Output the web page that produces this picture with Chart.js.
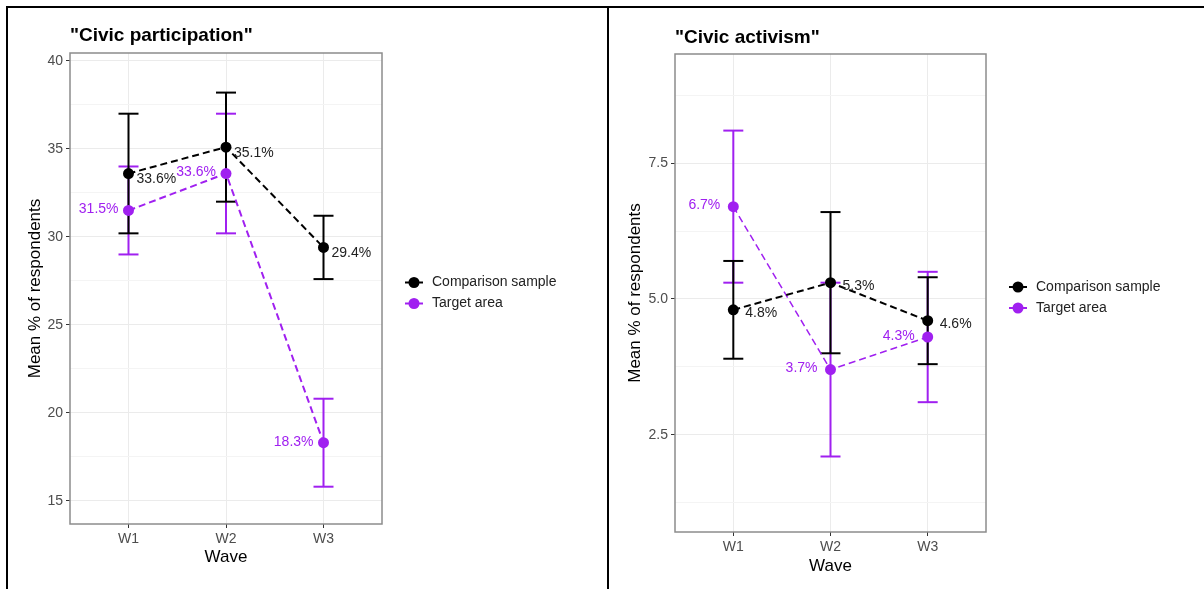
<!DOCTYPE html>
<html>
<head>
<meta charset="utf-8">
<title>Civic participation and civic activism by wave</title>
<script src="https://cdn.jsdelivr.net/npm/chart.js@4.4.1/dist/chart.umd.min.js"></script>
<style>
  html, body { margin: 0; padding: 0; background: #fff; }
  #page { position: relative; width: 1204px; height: 589px; overflow: hidden; }
  .rule { position: absolute; background: #000; }
  canvas { position: absolute; }
</style>
</head>
<body>
<div id="page">
  <div class="rule" style="left:6px;top:6px;width:1198px;height:2px"></div>
  <div class="rule" style="left:6px;top:6px;width:2px;height:583px"></div>
  <div class="rule" style="left:607px;top:6px;width:2px;height:583px"></div>
  <canvas id="participation" width="599" height="581" style="left:8px;top:8px"></canvas>
  <canvas id="activism" width="595" height="581" style="left:609px;top:8px"></canvas>
</div>
<script>
// ------------------------
// Data
// ------------------------

const waves = ['W1', 'W2', 'W3'];
const groups = ['Comparison sample', 'Target area'];

// "Civic participation"
const partComparisonMean = [33.6, 35.1, 29.4];
const partComparisonLow = [30.2, 32.0, 27.6];
const partComparisonHigh = [37.0, 38.2, 31.2];
const partTargetMean = [31.5, 33.6, 18.3];
const partTargetLow = [29.0, 30.2, 15.8];
const partTargetHigh = [34.0, 37.0, 20.8];
const partTicks = [15, 20, 25, 30, 35, 40];

// "Civic activism"
const actComparisonMean = [4.8, 5.3, 4.6];
const actComparisonLow = [3.9, 4.0, 3.8];
const actComparisonHigh = [5.7, 6.6, 5.4];
const actTargetMean = [6.7, 3.7, 4.3];
const actTargetLow = [5.3, 2.1, 3.1];
const actTargetHigh = [8.1, 5.3, 5.5];
const actTicks = [2.5, 5.0, 7.5];

const BLACK = '#000000';
const PURPLE = '#A020F0';
const FONT = "'Liberation Sans', Arial, sans-serif";

// ------------------------
// Helpers
// ------------------------

function meanPoints(values) {
  return values.map((v, i) => ({ x: i + 1, y: v }));
}

// every error bar is a low/high pair followed by a gap, so one dataset holds all three
function errorBarPoints(low, high) {
  const pts = [];
  waves.forEach((w, i) => {
    pts.push({ x: i + 1, y: low[i] }, { x: i + 1, y: high[i] }, { x: i + 1, y: null });
  });
  return pts;
}

// minor grid lines sit halfway between the labelled ones
function minorTicks(majors, min, max) {
  const step = majors[1] - majors[0];
  const out = [];
  [majors[0] - step, ...majors].forEach(v => {
    const m = v + step / 2;
    if (m > min && m < max) out.push(m);
  });
  return out;
}

function errorBarSet(g, color, order) {
  return {
    data: errorBarPoints(g.low, g.high),
    borderColor: color,
    borderWidth: 2,
    pointStyle: 'line',
    pointRadius: 10,
    pointBorderColor: color,
    pointBorderWidth: 2,
    spanGaps: false,
    order
  };
}

function lineSet(g, color, width, order) {
  return {
    data: meanPoints(g.mean),
    borderColor: color,
    borderWidth: width,
    borderDash: [7, 4],
    pointRadius: 0,
    order
  };
}

function pointSet(g, color, radius, order) {
  return {
    data: meanPoints(g.mean),
    showLine: false,
    pointRadius: radius,
    pointBackgroundColor: color,
    pointBorderWidth: 0,
    order
  };
}

// ------------------------
// Panel
// ------------------------

function makeChart(canvasId, cfg) {
  const majors = cfg.ticks;
  const allTicks = [...majors, ...minorTicks(majors, cfg.yMin, cfg.yMax)].sort((a, b) => a - b);
  const isMajor = c => c.tick && majors.includes(c.tick.value);

  // border, value labels, title and legend
  const decor = {
    id: 'decor',
    afterDraw(chart) {
      const { ctx, chartArea: a, scales: { x, y } } = chart;
      ctx.save();

      ctx.strokeStyle = '#8c8c8c';
      ctx.lineWidth = 1.5;
      ctx.strokeRect(a.left, a.top, a.right - a.left, a.bottom - a.top);

      ctx.font = `14px ${FONT}`;
      ctx.textBaseline = 'middle';

      ctx.fillStyle = '#222';
      ctx.textAlign = 'left';
      cfg.comparison.mean.forEach((v, i) => {
        ctx.fillText(v.toFixed(1) + '%',
          x.getPixelForValue(i + 1) + cfg.compLabel[0],
          y.getPixelForValue(v) + cfg.compLabel[1]);
      });

      ctx.fillStyle = PURPLE;
      ctx.textAlign = 'right';
      cfg.target.mean.forEach((v, i) => {
        ctx.fillText(v.toFixed(1) + '%',
          x.getPixelForValue(i + 1) + cfg.targLabel[0],
          y.getPixelForValue(v) + cfg.targLabel[1]);
      });

      ctx.textAlign = 'left';
      ctx.fillStyle = '#000';
      ctx.font = `bold 19px ${FONT}`;
      ctx.fillText(cfg.title, a.left, a.top - cfg.titleGap);

      // legend: dot with a short bar, as in the point-range key
      const cy = (a.top + a.bottom) / 2;
      const colors = [BLACK, PURPLE];
      ctx.font = `14px ${FONT}`;
      groups.forEach((name, i) => {
        const ry = cy - 6 + i * 21;
        const sx = a.right + 32;
        ctx.strokeStyle = colors[i];
        ctx.lineWidth = 2;
        ctx.beginPath();
        ctx.moveTo(sx - 9, ry);
        ctx.lineTo(sx + 9, ry);
        ctx.stroke();
        ctx.fillStyle = colors[i];
        ctx.beginPath();
        ctx.arc(sx, ry, 5.5, 0, Math.PI * 2);
        ctx.fill();
        ctx.fillStyle = '#222';
        ctx.fillText(name, a.right + 50, ry);
      });

      ctx.restore();
    }
  };

  // lower order is drawn on top: bars, then dashed lines, then points,
  // with the comparison sample above the target area in each layer
  return new Chart(document.getElementById(canvasId), {
    type: 'line',
    data: {
      datasets: [
        errorBarSet(cfg.target, PURPLE, 6),
        errorBarSet(cfg.comparison, BLACK, 5),
        lineSet(cfg.target, PURPLE, cfg.targLineWidth, 4),
        lineSet(cfg.comparison, BLACK, cfg.compLineWidth, 3),
        pointSet(cfg.target, PURPLE, cfg.pointRadius, 2),
        pointSet(cfg.comparison, BLACK, cfg.pointRadius, 1)
      ]
    },
    options: {
      responsive: false,
      devicePixelRatio: 1,
      animation: false,
      events: [],
      layout: { padding: cfg.padding },
      plugins: {
        legend: { display: false },
        tooltip: { enabled: false }
      },
      scales: {
        x: {
          type: 'linear',
          min: 0.4,
          max: 3.6,
          afterBuildTicks: s => { s.ticks = waves.map((w, i) => ({ value: i + 1 })); },
          afterFit: s => { s.height = cfg.xAxisHeight; },
          ticks: {
            callback: v => waves[Math.round(v) - 1],
            color: '#4D4D4D',
            font: { family: FONT, size: 14 },
            padding: 3,
            autoSkip: false,
            maxRotation: 0
          },
          grid: { color: '#EBEBEB', lineWidth: 1, tickColor: '#333', tickLength: 4 },
          border: { display: false },
          title: {
            display: true,
            text: 'Wave',
            color: '#000',
            font: { family: FONT, size: 17 },
            padding: { top: 0, bottom: cfg.xTitlePad }
          }
        },
        y: {
          type: 'linear',
          min: cfg.yMin,
          max: cfg.yMax,
          afterBuildTicks: s => { s.ticks = allTicks.map(v => ({ value: v })); },
          afterFit: s => { s.width = cfg.yAxisWidth; },
          ticks: {
            callback: v => majors.includes(v) ? v.toFixed(cfg.decimals) : '',
            color: '#4D4D4D',
            font: { family: FONT, size: 14 },
            padding: 3,
            autoSkip: false
          },
          grid: {
            color: c => isMajor(c) ? '#EBEBEB' : '#F4F4F4',
            lineWidth: 1,
            tickColor: c => isMajor(c) ? '#333' : 'rgba(0,0,0,0)',
            tickLength: 4
          },
          border: { display: false },
          title: {
            display: true,
            text: 'Mean % of respondents',
            color: '#000',
            font: { family: FONT, size: 17 },
            padding: { top: cfg.yTitlePad, bottom: 0 }
          }
        }
      }
    },
    plugins: [decor]
  });
}

makeChart('participation', {
  title: '"Civic participation"',
  comparison: { mean: partComparisonMean, low: partComparisonLow, high: partComparisonHigh },
  target: { mean: partTargetMean, low: partTargetLow, high: partTargetHigh },
  ticks: partTicks,
  decimals: 0,
  yMin: 13.68,
  yMax: 40.45,
  yAxisWidth: 62,
  xAxisHeight: 65,
  padding: { top: 45, right: 225, bottom: 0, left: 0 },
  xTitlePad: 21,
  yTitlePad: 16.8,
  titleGap: 17,
  compLabel: [8, 6],
  targLabel: [-10, -1],
  compLineWidth: 2,
  targLineWidth: 2,
  pointRadius: 5.5
});

makeChart('activism', {
  title: '"Civic activism"',
  comparison: { mean: actComparisonMean, low: actComparisonLow, high: actComparisonHigh },
  target: { mean: actTargetMean, low: actTargetLow, high: actTargetHigh },
  ticks: actTicks,
  decimals: 1,
  yMin: 0.71,
  yMax: 9.51,
  yAxisWidth: 66,
  xAxisHeight: 57,
  padding: { top: 46, right: 218, bottom: 0, left: 0 },
  xTitlePad: 12.5,
  yTitlePad: 15.8,
  titleGap: 16,
  compLabel: [12, 3],
  targLabel: [-13, -1],
  compLineWidth: 2,
  targLineWidth: 1.5,
  pointRadius: 5.5
});
</script>
</body>
</html>
